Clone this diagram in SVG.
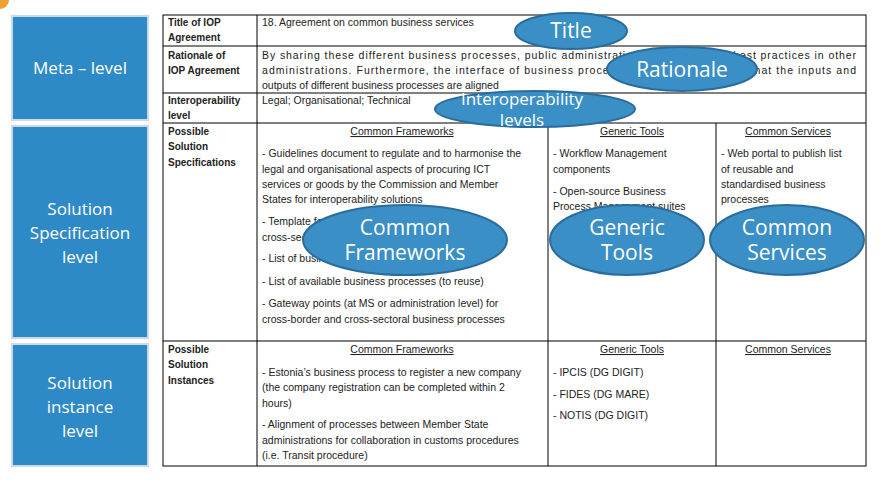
<svg xmlns="http://www.w3.org/2000/svg" width="884" height="495" viewBox="0 0 884 495">
<style>
.lvl{fill:#2e8ac6;stroke:#c9d9e6;stroke-width:2}
.lt{font-family:"Open Sans","DejaVu Sans",sans-serif;font-size:17px;fill:#fff;text-anchor:middle}
.t{font-family:"Liberation Sans",Arial,sans-serif;font-size:10.5px;fill:#222}
.b{font-weight:bold;font-size:10px}
.h{font-family:"Liberation Sans",Arial,sans-serif;font-size:10.5px;fill:#222;text-anchor:middle;text-decoration:underline}
.g{stroke:#000;stroke-width:1;fill:none}
.el{fill:#3a8fc7;stroke:#2a6d9d;stroke-width:2}
.et{font-family:"Open Sans","DejaVu Sans",sans-serif;font-size:21px;fill:#fff;text-anchor:middle}
</style>
<rect width="884" height="495" fill="#fff"/>
<circle cx="0" cy="0" r="9" fill="#f0a030"/>
<g id="meta"><rect class="lvl" x="12" y="16" width="136" height="104"/><text class="lt" x="80" y="74">Meta – level</text></g>
<g id="spec"><rect class="lvl" x="12" y="126" width="136" height="212"/><text class="lt" x="80" y="215">Solution</text><text class="lt" x="80" y="239">Specification</text><text class="lt" x="80" y="263">level</text></g>
<g id="inst"><rect class="lvl" x="12" y="344" width="136" height="122"/><text class="lt" x="80" y="389">Solution</text><text class="lt" x="80" y="413">instance</text><text class="lt" x="80" y="437">level</text></g>
<g id="table">
<rect class="g" x="163" y="15" width="703" height="451"/>
<path class="g" d="M163 46H866M163 93H866M163 123H866M163 341H866M257 15V466M548 123V466M716 123V466"/>
<text class="t b" x="168" y="26">Title of IOP</text><text class="t b" x="168" y="41">Agreement</text>
<text class="t" x="262" y="26">18. Agreement on common business services</text>
<text class="t b" x="168" y="59">Rationale of</text><text class="t b" x="168" y="74">IOP Agreement</text>
<text class="t" x="262" y="59" textLength="594" lengthAdjust="spacing">By sharing these different business processes, public administrations can learn from best practices in other</text>
<text class="t" x="262" y="74" textLength="594" lengthAdjust="spacing">administrations. Furthermore, the interface of business processes must be aligned so that the inputs and</text>
<text class="t" x="262" y="89">outputs of different business processes are aligned</text>
<text class="t b" x="168" y="104">Interoperability</text><text class="t b" x="168" y="119">level</text>
<text class="t" x="262" y="104">Legal; Organisational; Technical</text>
<text class="t b" x="168" y="135">Possible</text><text class="t b" x="168" y="150">Solution</text><text class="t b" x="168" y="166">Specifications</text>
<text class="h" x="402" y="135">Common Frameworks</text><text class="h" x="632" y="135">Generic Tools</text><text class="h" x="788" y="135">Common Services</text>
<text class="t" x="262" y="157">- Guidelines document to regulate and to harmonise the</text>
<text class="t" x="262" y="173">legal and organisational aspects of procuring ICT</text>
<text class="t" x="262" y="188">services or goods by the Commission and Member</text>
<text class="t" x="262" y="203">States for interoperability solutions</text>
<text class="t" x="262" y="225">- Template for cross-border and</text>
<text class="t" x="262" y="241">cross-sectoral</text>
<text class="t" x="262" y="262">- List of business</text>
<text class="t" x="262" y="285">- List of available business processes (to reuse)</text>
<text class="t" x="262" y="307">- Gateway points (at MS or administration level) for</text>
<text class="t" x="262" y="323">cross-border and cross-sectoral business processes</text>
<text class="t" x="553" y="157">- Workflow Management</text><text class="t" x="553" y="173">components</text>
<text class="t" x="553" y="195">- Open-source Business</text><text class="t" x="553" y="210">Process Management suites</text>
<text class="t" x="721" y="157">- Web portal to publish list</text><text class="t" x="721" y="173">of reusable and</text>
<text class="t" x="721" y="188">standardised business</text><text class="t" x="721" y="203">processes</text>
<text class="t b" x="168" y="353">Possible</text><text class="t b" x="168" y="368">Solution</text><text class="t b" x="168" y="384">Instances</text>
<text class="h" x="402" y="353">Common Frameworks</text><text class="h" x="632" y="353">Generic Tools</text><text class="h" x="788" y="353">Common Services</text>
<text class="t" x="262" y="376">- Estonia’s business process to register a new company</text>
<text class="t" x="262" y="391">(the company registration can be completed within 2</text>
<text class="t" x="262" y="407">hours)</text>
<text class="t" x="262" y="428">- Alignment of processes between Member State</text>
<text class="t" x="262" y="444">administrations for collaboration in customs procedures</text>
<text class="t" x="262" y="459">(i.e. Transit procedure)</text>
<text class="t" x="553" y="376">- IPCIS (DG DIGIT)</text><text class="t" x="553" y="398">- FIDES (DG MARE)</text><text class="t" x="553" y="419">- NOTIS (DG DIGIT)</text>
</g>
<g id="e-title"><ellipse class="el" cx="571" cy="31" rx="56" ry="18"/><text class="et" x="571" y="38">Title</text></g>
<g id="e-rationale"><ellipse class="el" cx="682" cy="69" rx="75" ry="22"/><text class="et" x="682" y="77">Rationale</text></g>
<g id="e-interop"><ellipse class="el" cx="535" cy="109" rx="100" ry="18"/><text class="et" x="522" y="105" style="font-size:17px">Interoperability</text><text class="et" x="522" y="126" style="font-size:17px">levels</text></g>
<g id="e-cf"><ellipse class="el" cx="405" cy="240" rx="102" ry="35"/><text class="et" x="405" y="235">Common</text><text class="et" x="405" y="260">Frameworks</text></g>
<g id="e-gt"><ellipse class="el" cx="627" cy="240" rx="77" ry="35"/><text class="et" x="627" y="235">Generic</text><text class="et" x="627" y="260">Tools</text></g>
<g id="e-cs"><ellipse class="el" cx="787" cy="240" rx="77" ry="35"/><text class="et" x="787" y="235">Common</text><text class="et" x="787" y="260">Services</text></g>
<g id="connectors"/>
</svg>
